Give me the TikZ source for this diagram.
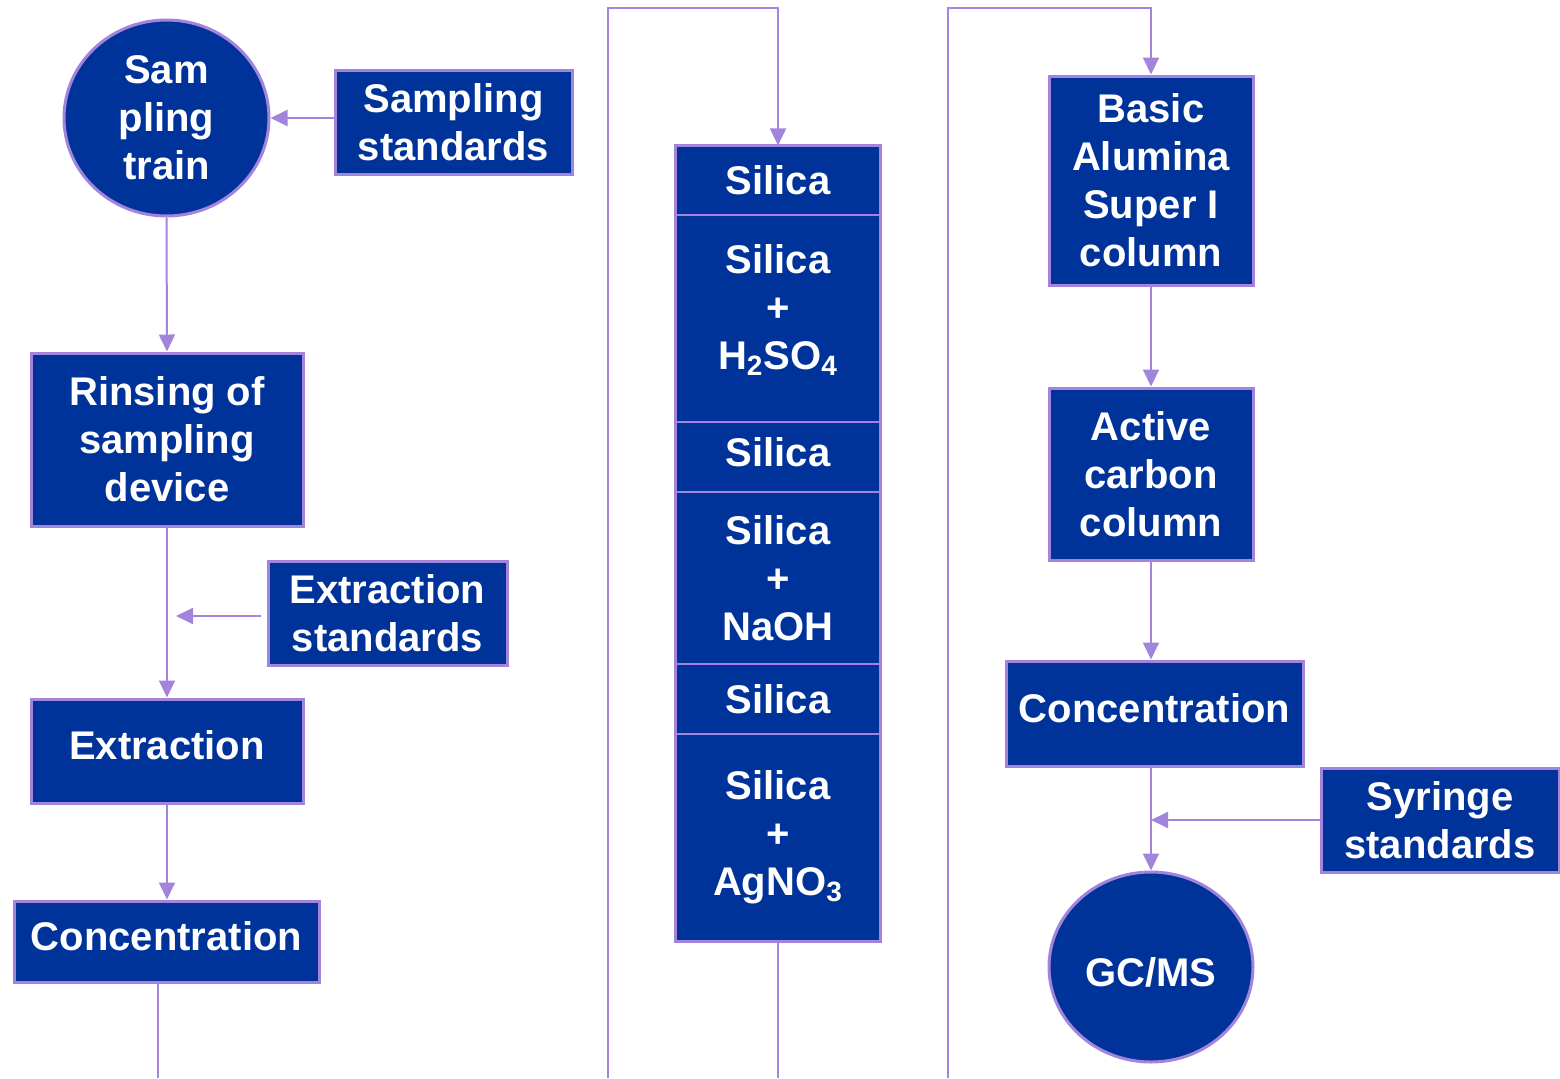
\documentclass[tikz,border=0pt]{standalone}
\usepackage{fontspec}
\setmainfont{Liberation Sans}
\usetikzlibrary{arrows.meta,shapes.geometric}
\definecolor{boxblue}{HTML}{003399}
\definecolor{lilac}{HTML}{A384DD}
\tikzset{
  stepbox/.style={draw=lilac,line width=1.5pt,fill=boxblue,text=white,
    font=\fontsize{20}{24}\selectfont\bfseries,align=center,inner sep=0pt},
  endpoint/.style={stepbox,ellipse},
  layer/.style={stepbox,line width=0.6pt,minimum width=102pt},
  flow/.style={draw=lilac,line width=1pt,>={Triangle[length=8.5pt,width=8pt]}},
}
\begin{document}
\begin{tikzpicture}[x=0.5pt,y=-0.5pt]
\useasboundingbox (0,0) rectangle (1560,1078);

\node[endpoint,minimum width=102.5pt,minimum height=98pt] (train) at (166.5,118) {Sam\\pling\\train};
\node[stepbox,minimum width=118.5pt,minimum height=52pt] (sampstd) at (453.5,122) {Sampling\\standards};
\node[stepbox,minimum width=136pt,minimum height=86.5pt] (rinse) at (167,439.5) {Rinsing of\\sampling\\device};
\node[stepbox,minimum width=119.5pt,minimum height=52pt] (extrstd) at (387.5,613) {Extraction\\standards};
\node[stepbox,minimum width=136pt,minimum height=52pt,text depth=6pt] (extr) at (167,751) {Extraction};
\node[stepbox,minimum width=152.5pt,minimum height=40.5pt,text depth=6pt] (concL) at (166.5,941.5) {Concentration};

\node[layer,minimum height=34.5pt] (sil1) at (778,180.5) {Silica};
\node[layer,minimum height=103.5pt,text depth=12pt] (sil2) at (778,318.5) {Silica\\+\\H\textsubscript{2}SO\textsubscript{4}};
\node[layer,minimum height=35pt,text depth=5pt] (sil3) at (778,457) {Silica};
\node[layer,minimum height=86pt] (sil4) at (778,578) {Silica\\+\\NaOH};
\node[layer,minimum height=35pt] (sil5) at (778,699) {Silica};
\node[layer,minimum height=103.5pt] (sil6) at (778,837.5) {Silica\\+\\AgNO\textsubscript{3}};
\draw[lilac,line width=1.5pt] (sil1.north west) rectangle (sil6.south east);

\node[stepbox,minimum width=102pt,minimum height=104.5pt] (alumina) at (1151,180.5) {Basic\\Alumina\\Super I\\column};
\node[stepbox,minimum width=102pt,minimum height=86pt] (carbon) at (1151,474) {Active\\carbon\\column};
\node[stepbox,minimum width=148.5pt,minimum height=52.5pt,text depth=6pt] (concR) at (1154.5,713.5) {Concentration};
\node[stepbox,minimum width=119pt,minimum height=52pt] (syrstd) at (1440,820) {Syringe\\standards};
\node[endpoint,minimum width=102pt,minimum height=95pt,text height=20pt] (gcms) at (1151,967) {GC/MS};

\coordinate (extrtip) at (176,616);
\coordinate (leftend) at (158,1078);
\coordinate (loopAbot) at (608,1078);
\coordinate (loopAtop) at (608,8);
\coordinate (colend) at (778,1078);
\coordinate (loopBbot) at (948,1078);
\coordinate (loopBtop) at (948,8);

\draw[flow,->] (sampstd.west |- train.east) -- (train.east);
\draw[flow,->] (train.south) -- (rinse.north);
\draw[flow,->] ([xshift=-3pt]extrstd.west |- extrtip) -- (extrtip);
\draw[flow,->] (rinse.south) -- (extr.north);
\draw[flow,->] (extr.south) -- (extr.south |- concL.north);
\draw[flow] (concL.south -| leftend) -- (leftend);

\draw[flow,->] (loopAbot) -- (loopAtop) -| (sil1.north);
\draw[flow] (sil6.south) -- (colend);

\draw[flow,->] (loopBbot) -- (loopBtop) -| (alumina.north);
\draw[flow,->] (alumina.south) -- (carbon.north);
\draw[flow,->] (carbon.south) -- (carbon.south |- concR.north);
\draw[flow,->] (concR.south -| gcms.north) -- (gcms.north);
\draw[flow,->] (syrstd.west) -- (syrstd.west -| gcms.north);
\end{tikzpicture}
\end{document}
